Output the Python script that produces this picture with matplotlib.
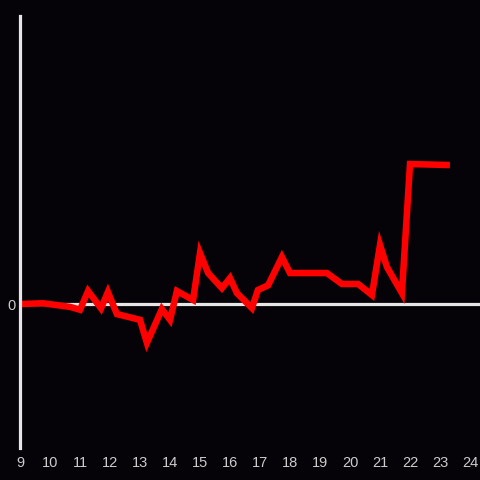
import matplotlib
matplotlib.use("Agg")
import matplotlib.pyplot as plt

hours = [9, 9.77, 10.67, 11, 11.27, 11.7, 11.93, 12.23, 13, 13.23, 13.73, 14, 14.23,
         14.77, 15, 15.27, 15.73, 16, 16.23, 16.73, 16.93, 17.27, 17.73, 18, 19.23,
         19.73, 20.27, 20.73, 21, 21.23, 21.73, 22, 23.33]
values = [0, 0.005, -0.02, -0.04, 0.09, -0.03, 0.083, -0.07, -0.11, -0.27, -0.035, -0.11, 0.09,
          0.028, 0.354, 0.215, 0.11, 0.18, 0.076, -0.028, 0.097, 0.13, 0.326, 0.215, 0.215,
          0.139, 0.139, 0.0625, 0.41, 0.257, 0.076, 0.972, 0.965]
xticks = list(range(9, 25))
yticks = [0]

bg = "#050308"
fig = plt.figure(figsize=(4.8, 4.8), dpi=100, facecolor=bg)
ax = fig.add_axes([20/480, 32/480, 460/480, 432/480], facecolor=bg)
ax.set_xlim(9, 24.333)
ax.set_ylim(-1.0, 2.0)

ax.axhline(0, color="#e6e6e6", lw=2.3, zorder=2)
ax.plot(hours, values, color="#ff0000", lw=4.7, solid_joinstyle="miter", solid_capstyle="butt", zorder=3)

for s in ["top", "right", "bottom"]:
    ax.spines[s].set_visible(False)
ax.spines["left"].set_color("#e6e6e6")
ax.spines["left"].set_linewidth(2.3)
ax.spines["left"].set_zorder(4)

ax.set_xticks(xticks)
ax.set_xticklabels([str(t) for t in xticks])
ax.set_yticks(yticks)
ax.set_yticklabels(["0"])
ax.tick_params(axis="both", length=0, colors="#cccccc", labelsize=10.5)
ax.tick_params(axis="x", pad=6)
ax.tick_params(axis="y", pad=3)
for lab in ax.get_xticklabels() + ax.get_yticklabels():
    lab.set_family("Liberation Sans")

fig.savefig("out.png", dpi=100, facecolor=bg)
